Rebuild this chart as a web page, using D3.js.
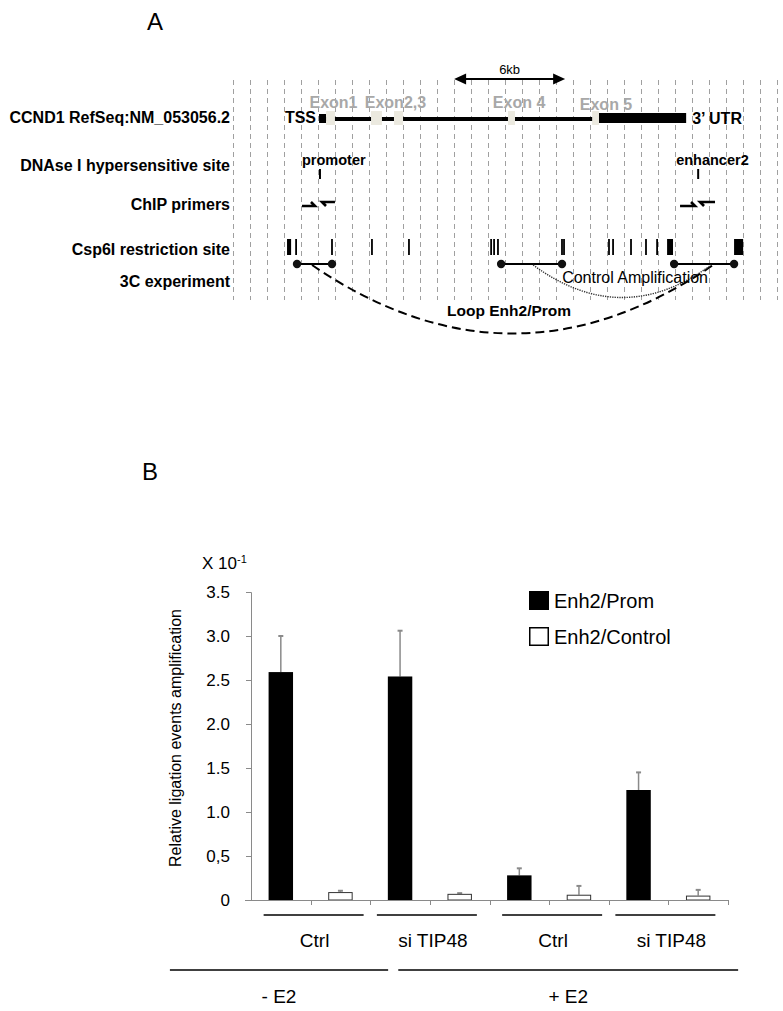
<!DOCTYPE html>
<html>
<head>
<meta charset="utf-8">
<script src="https://cdn.jsdelivr.net/npm/d3@7"></script>
<style>
  body { margin: 0; background: #fff; }
  svg { display: block; font-family: "Liberation Sans", Arial, Helvetica, sans-serif; }
</style>
</head>
<body>
<div id="chart"></div>
<script>
// ---------- Panel A : CCND1 locus, positions in kb from left edge of the map
const trackLabels = ['CCND1 RefSeq:NM_053056.2', 'DNAse I hypersensitive site', 'ChIP primers', 'Csp6I restriction site', '3C experiment'];
const tss = [4.65, 5.03];
const geneSpan = [5.03, 19.78];
const utr = [19.78, 24.49];
const exons = [[5.03, 5.51], [7.46, 8.05], [8.70, 9.19], [14.86, 15.24], [19.41, 19.78]];
const exonLabels = ['Exon1', 'Exon2,3', 'Exon 4', 'Exon 5'];
const exonLabelPos = [5.43, 8.78, 15.46, 20.16];
const scaleBar = [11.95, 17.95];
const dnaseNames = ['promoter', 'enhancer2'];
const dnaseSites = [4.70, 25.14];
const dnaseLabelPos = [3.73, 23.95];
const primersFwd = [[3.73, 4.43], [24.16, 24.97]];
const primersRev = [[4.81, 5.51], [25.24, 26.05]];
const csp6iSites = [[2.92, 3.14], [3.41, 3.41], [5.35, 5.35], [7.51, 7.51], [9.51, 9.51],
  [13.95, 13.95], [14.11, 14.11], [14.32, 14.32], [17.78, 17.78], [17.89, 17.89],
  [20.32, 20.32], [20.54, 20.54], [21.51, 21.51], [22.32, 22.32], [22.92, 22.92],
  [23.46, 23.78], [27.08, 27.57]];
const fragments = [[3.46, 5.35], [14.49, 17.78], [23.84, 27.08]];
const loopNames = ['Loop Enh2/Prom', 'Control Amplification'];
const loopEnds = [[4.27, 25.95], [16.22, 25.84]];
const loopLabelPos = [14.92, 21.73];

// ---------- Panel B : 3C quantification
const treatments = ['Ctrl', 'si TIP48', 'Ctrl', 'si TIP48'];
const conditions = ['- E2', '+ E2'];
const seriesNames = ['Enh2/Prom', 'Enh2/Control'];
const promValues = [2.59, 2.54, 0.28, 1.25];
const promErrors = [0.41, 0.52, 0.08, 0.20];
const controlValues = [0.09, 0.07, 0.06, 0.05];
const controlErrors = [0.015, 0.008, 0.10, 0.065];
const yTickValues = [0, 0.5, 1, 1.5, 2, 2.5, 3, 3.5];
const yTickLabels = ['0', '0,5', '1.0', '1.5', '2.0', '2.5', '3.0', '3.5'];

const W = 783, H = 1011;
const svg = d3.select('#chart').append('svg').attr('width', W).attr('height', H);

// ================= Panel A =================
const xKb = d3.scaleLinear().domain([0, 29.4]).range([233, 777]);
const gridX = d3.scaleLinear().domain([0, 32]).range([233, 777]);
const a = svg.append('g').attr('class', 'panel-a');

a.append('text').attr('x', 147).attr('y', 30).attr('font-size', 24).text('A');

// dashed vertical grid
a.selectAll('line.grid').data(d3.range(33)).join('line')
  .attr('class', 'grid')
  .attr('x1', d => Math.round(gridX(d)) + 0.5).attr('x2', d => Math.round(gridX(d)) + 0.5)
  .attr('y1', 80).attr('y2', 300)
  .attr('stroke', '#a0a0a0').attr('stroke-width', 1).attr('stroke-dasharray', '5,4');

const rowY = [123, 171, 210, 255, 287];
a.selectAll('text.row').data(trackLabels).join('text')
  .attr('class', 'row')
  .attr('x', 230).attr('y', (d, i) => rowY[i])
  .attr('text-anchor', 'end').attr('font-weight', 'bold').attr('font-size', 16)
  .text(d => d);

// gene model
const geneY = 119;
a.append('line')
  .attr('x1', xKb(geneSpan[0])).attr('x2', xKb(geneSpan[1]))
  .attr('y1', geneY).attr('y2', geneY)
  .attr('stroke', '#000').attr('stroke-width', 4);
a.append('rect')
  .attr('x', xKb(tss[0])).attr('y', 114)
  .attr('width', xKb(tss[1]) - xKb(tss[0])).attr('height', 9).attr('fill', '#000');
a.append('rect')
  .attr('x', xKb(utr[0])).attr('y', 113)
  .attr('width', xKb(utr[1]) - xKb(utr[0])).attr('height', 10).attr('fill', '#000');
a.selectAll('rect.exon').data(exons).join('rect')
  .attr('class', 'exon')
  .attr('x', d => xKb(d[0])).attr('y', 111)
  .attr('width', d => xKb(d[1]) - xKb(d[0])).attr('height', 14)
  .attr('fill', '#ebe9df');
a.selectAll('text.exon').data(exonLabels).join('text')
  .attr('class', 'exon')
  .attr('x', (d, i) => xKb(exonLabelPos[i])).attr('y', (d, i) => i === 3 ? 110 : 108)
  .attr('text-anchor', 'middle').attr('font-weight', 'bold').attr('font-size', 16)
  .attr('fill', '#a8a8a8')
  .text(d => d);
a.append('text')
  .attr('x', xKb(tss[0]) - 3).attr('y', 123)
  .attr('text-anchor', 'end').attr('font-weight', 'bold').attr('font-size', 16)
  .text('TSS');
a.append('text')
  .attr('x', xKb(utr[1]) + 6).attr('y', 124)
  .attr('font-weight', 'bold').attr('font-size', 16)
  .text('3\u2019 UTR');

// 6kb scale bar
const sb0 = xKb(scaleBar[0]), sb1 = xKb(scaleBar[1]), sbY = 79;
a.append('line')
  .attr('x1', sb0 + 8).attr('x2', sb1 - 8).attr('y1', sbY).attr('y2', sbY)
  .attr('stroke', '#000').attr('stroke-width', 2);
a.append('path')
  .attr('d', `M${sb0},${sbY}L${sb0 + 12},${sbY - 5.5}L${sb0 + 12},${sbY + 5.5}Z` +
             `M${sb1},${sbY}L${sb1 - 12},${sbY - 5.5}L${sb1 - 12},${sbY + 5.5}Z`)
  .attr('fill', '#000');
a.append('text')
  .attr('x', (sb0 + sb1) / 2).attr('y', 74)
  .attr('text-anchor', 'middle').attr('font-size', 13)
  .text('6kb');

// DNAse I sites
a.selectAll('line.dnase').data(dnaseSites).join('line')
  .attr('class', 'dnase')
  .attr('x1', d => xKb(d)).attr('x2', d => xKb(d))
  .attr('y1', 169).attr('y2', 179)
  .attr('stroke', '#000').attr('stroke-width', 2);
a.selectAll('text.dnase').data(dnaseNames).join('text')
  .attr('class', 'dnase')
  .attr('x', (d, i) => xKb(dnaseLabelPos[i])).attr('y', 165)
  .attr('font-weight', 'bold').attr('font-size', 14.5)
  .text(d => d);

// ChIP primers (half arrows)
a.selectAll('path.fwd').data(primersFwd).join('path')
  .attr('class', 'fwd')
  .attr('d', d => `M${xKb(d[0])},206H${xKb(d[1])}L${xKb(d[1]) - 4},202`)
  .attr('fill', 'none').attr('stroke', '#000').attr('stroke-width', 2.6);
a.selectAll('path.rev').data(primersRev).join('path')
  .attr('class', 'rev')
  .attr('d', d => `M${xKb(d[1])},202H${xKb(d[0])}L${xKb(d[0]) + 4},206`)
  .attr('fill', 'none').attr('stroke', '#000').attr('stroke-width', 2.6);

// Csp6I restriction sites
a.selectAll('rect.site').data(csp6iSites).join('rect')
  .attr('class', 'site')
  .attr('x', d => {
    const w = xKb(d[1]) - xKb(d[0]);
    return w < 1.8 ? xKb(d[0]) - 0.9 : xKb(d[0]);
  })
  .attr('y', 239)
  .attr('width', d => Math.max(xKb(d[1]) - xKb(d[0]), 1.8))
  .attr('height', 16)
  .attr('fill', '#000');

// 3C fragments
const fragY = 264;
a.selectAll('line.frag').data(fragments).join('line')
  .attr('class', 'frag')
  .attr('x1', d => xKb(d[0])).attr('x2', d => xKb(d[1]))
  .attr('y1', fragY).attr('y2', fragY)
  .attr('stroke', '#000').attr('stroke-width', 2);
a.selectAll('circle.frag').data(fragments.flat()).join('circle')
  .attr('class', 'frag')
  .attr('cx', d => xKb(d)).attr('cy', fragY).attr('r', 4.2)
  .attr('fill', '#111');

// loops
const loopBottom = [333, 297];
const loopStyle = [
  { dash: '9,5', width: 2, color: '#000' },
  { dash: '1.3,1.1', width: 1.4, color: '#333' }
];
a.selectAll('path.loop').data(loopEnds).join('path')
  .attr('class', 'loop')
  .attr('d', (d, i) => {
    const x0 = xKb(d[0]), x1 = xKb(d[1]);
    const cy = 2 * loopBottom[i] - fragY;
    return `M${x0},${fragY + 1}Q${(x0 + x1) / 2},${cy} ${x1},${fragY + 1}`;
  })
  .attr('fill', 'none')
  .attr('stroke', (d, i) => loopStyle[i].color)
  .attr('stroke-width', (d, i) => loopStyle[i].width)
  .attr('stroke-dasharray', (d, i) => loopStyle[i].dash);
a.append('text')
  .attr('x', xKb(loopLabelPos[0])).attr('y', 316)
  .attr('text-anchor', 'middle').attr('font-weight', 'bold').attr('font-size', 15.5)
  .text(loopNames[0]);
a.append('text')
  .attr('x', xKb(loopLabelPos[1])).attr('y', 283)
  .attr('text-anchor', 'middle').attr('font-size', 16)
  .text(loopNames[1]);

// ================= Panel B =================
const b = svg.append('g').attr('class', 'panel-b');
b.append('text').attr('x', 142).attr('y', 480).attr('font-size', 24).text('B');

const y = d3.scaleLinear().domain([0, 3.5]).range([900, 592]);
const x = d3.scaleBand().domain(d3.range(8)).range([251, 728]);
const barW = x.bandwidth() * 0.41;

// bar data: for each treatment, prom bar then control bar
const bars = [];
treatments.forEach((t, i) => {
  bars.push({ slot: i * 2, v: promValues[i], e: promErrors[i], s: 0 });
  bars.push({ slot: i * 2 + 1, v: controlValues[i], e: controlErrors[i], s: 1 });
});

// y axis
const yAxis = d3.axisLeft(y)
  .tickValues(yTickValues)
  .tickFormat((d, i) => yTickLabels[i])
  .tickSize(5).tickPadding(16);
const gy = b.append('g').attr('transform', 'translate(251,0)').call(yAxis);
gy.select('.domain').attr('stroke', '#8a8a8a');
gy.selectAll('.tick line').attr('stroke', '#8a8a8a');
gy.selectAll('.tick text').attr('font-size', 17).attr('fill', '#000')
  .attr('font-family', '"Liberation Sans", Arial, sans-serif');

b.append('text').attr('x', 202).attr('y', 569).attr('font-size', 17)
  .text('X 10')
  .append('tspan').attr('dy', -6).attr('font-size', 11).text('-1');

b.append('text')
  .attr('transform', 'translate(181,738) rotate(-90)')
  .attr('text-anchor', 'middle').attr('font-size', 16)
  .text('Relative ligation events amplification');

// error bars (upward only)
const errs = b.selectAll('g.err').data(bars).join('g').attr('class', 'err');
errs.append('line')
  .attr('x1', d => x(d.slot) + x.bandwidth() / 2).attr('x2', d => x(d.slot) + x.bandwidth() / 2)
  .attr('y1', d => y(d.v)).attr('y2', d => y(d.v + d.e))
  .attr('stroke', '#8a8a8a').attr('stroke-width', 1.5);
errs.append('line')
  .attr('x1', d => x(d.slot) + x.bandwidth() / 2 - 2.5).attr('x2', d => x(d.slot) + x.bandwidth() / 2 + 2.5)
  .attr('y1', d => y(d.v + d.e)).attr('y2', d => y(d.v + d.e))
  .attr('stroke', '#8a8a8a').attr('stroke-width', 2);

// bars
b.selectAll('rect.bar').data(bars).join('rect')
  .attr('class', 'bar')
  .attr('x', d => x(d.slot) + (x.bandwidth() - barW) / 2 + (d.s ? 0.5 : 0))
  .attr('y', d => y(d.v) + (d.s ? 0.5 : 0))
  .attr('width', d => barW - (d.s ? 1 : 0))
  .attr('height', d => y(0) - y(d.v) - (d.s ? 0.5 : 0))
  .attr('fill', d => d.s ? '#fff' : '#000')
  .attr('stroke', d => d.s ? '#333' : 'none')
  .attr('stroke-width', 1);

// x axis line with slot separators
const xSep = d3.scaleLinear().domain([0, 8]).range([251, 728]);
b.append('line')
  .attr('x1', 245).attr('x2', 728).attr('y1', 900.5).attr('y2', 900.5)
  .attr('stroke', '#8a8a8a').attr('stroke-width', 1);
b.selectAll('line.sep').data(d3.range(1, 9)).join('line')
  .attr('class', 'sep')
  .attr('x1', d => Math.round(xSep(d)) + 0.5).attr('x2', d => Math.round(xSep(d)) + 0.5)
  .attr('y1', 900).attr('y2', 905)
  .attr('stroke', '#8a8a8a').attr('stroke-width', 1);

// treatment labels
const pairCenter = i => (xSep(i * 2) + xSep(i * 2 + 2)) / 2;
b.selectAll('line.treat').data(treatments).join('line')
  .attr('class', 'treat')
  .attr('x1', (d, i) => pairCenter(i) - 50 + (i % 2 ? -3 : 3))
  .attr('x2', (d, i) => pairCenter(i) + 50 + (i % 2 ? -3 : 3))
  .attr('y1', 915).attr('y2', 915)
  .attr('stroke', '#000').attr('stroke-width', 1.5);
b.selectAll('text.treat').data(treatments).join('text')
  .attr('class', 'treat')
  .attr('x', (d, i) => pairCenter(i) + (i % 2 ? 3 : 4)).attr('y', 947)
  .attr('text-anchor', 'middle').attr('font-size', 19)
  .text(d => d);

// E2 condition labels
const condSpan = [[-1.36, 2.3], [2.47, 8.17]];
b.selectAll('line.cond').data(conditions).join('line')
  .attr('class', 'cond')
  .attr('x1', (d, i) => xSep(condSpan[i][0])).attr('x2', (d, i) => xSep(condSpan[i][1]))
  .attr('y1', 970).attr('y2', 970)
  .attr('stroke', '#000').attr('stroke-width', 1.5);
b.selectAll('text.cond').data(conditions).join('text')
  .attr('class', 'cond')
  .attr('x', (d, i) => (xSep(condSpan[i][0]) + xSep(condSpan[i][1])) / 2).attr('y', 1003)
  .attr('text-anchor', 'middle').attr('font-size', 19)
  .text(d => d);

// legend
const legend = b.selectAll('g.legend').data(seriesNames).join('g')
  .attr('class', 'legend')
  .attr('transform', (d, i) => `translate(529,${591 + i * 36})`);
legend.append('rect')
  .attr('x', (d, i) => i ? 0.75 : 0).attr('y', (d, i) => i ? 0.75 : 0)
  .attr('width', (d, i) => i ? 18.5 : 20).attr('height', (d, i) => i ? 17.5 : 19)
  .attr('fill', (d, i) => i ? '#fff' : '#000')
  .attr('stroke', (d, i) => i ? '#000' : 'none').attr('stroke-width', 1.5);
legend.append('text')
  .attr('x', 25).attr('y', 16.5).attr('font-size', 20)
  .text(d => d);
</script>
</body>
</html>
